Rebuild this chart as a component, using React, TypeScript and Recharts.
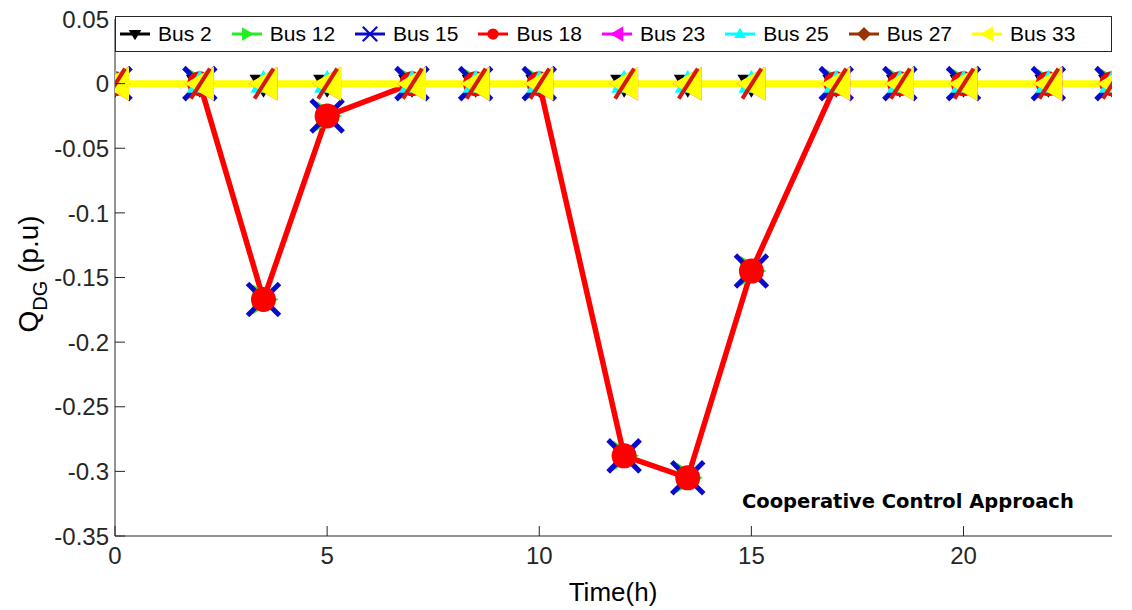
import React from 'react';
import { LineChart, Line, XAxis, YAxis, Legend, Customized } from 'recharts';

// sample times (h)
const times = [0, 2, 3.5, 5, 7, 8.5, 10, 12, 13.5, 15, 17, 18.5, 20, 22, 23.5];

// reactive power of each DG (p.u)
const bus2 = [0, 0, 0, 0, 0, 0, 0, 0, 0, 0, 0, 0, 0, 0, 0];
const bus12 = [0, 0, -0.167, -0.025, 0, 0, 0, -0.288, -0.305, -0.145, 0, 0, 0, 0, 0];
const bus15 = [0, 0, -0.167, -0.025, 0, 0, 0, -0.288, -0.305, -0.145, 0, 0, 0, 0, 0];
const bus18 = [0, 0, -0.167, -0.025, 0, 0, 0, -0.288, -0.305, -0.145, 0, 0, 0, 0, 0];
const bus23 = [0, 0, 0, 0, 0, 0, 0, 0, 0, 0, 0, 0, 0, 0, 0];
const bus25 = [0, 0, 0, 0, 0, 0, 0, 0, 0, 0, 0, 0, 0, 0, 0];
const bus27 = [0, 0, 0, 0, 0, 0, 0, 0, 0, 0, 0, 0, 0, 0, 0];
const bus33 = [0, 0, 0, 0, 0, 0, 0, 0, 0, 0, 0, 0, 0, 0, 0];

const xTicks = [0, 5, 10, 15, 20];
const yTicks = [0.05, 0, -0.05, -0.1, -0.15, -0.2, -0.25, -0.3, -0.35];

const data = times.map((t, i) => ({
  t,
  bus2: bus2[i],
  bus12: bus12[i],
  bus15: bus15[i],
  bus18: bus18[i],
  bus23: bus23[i],
  bus25: bus25[i],
  bus27: bus27[i],
  bus33: bus33[i],
}));

const W = 1132;
const H = 610;
const FONT = "'Liberation Sans', Arial, sans-serif";
const AXIS = '#262626';

type Shape = 'down' | 'right' | 'x' | 'circle' | 'left' | 'up' | 'slash' | 'diamond';

const series: { key: string; name: string; color: string; shape: Shape; width: number; legendShape?: Shape }[] = [
  { key: 'bus2', name: 'Bus 2', color: '#000000', shape: 'down', width: 2.5 },
  { key: 'bus12', name: 'Bus 12', color: '#22ee22', shape: 'right', width: 2.5 },
  { key: 'bus15', name: 'Bus 15', color: '#0a0acc', shape: 'x', width: 2.5 },
  { key: 'bus18', name: 'Bus 18', color: '#ff0000', shape: 'circle', width: 5.5 },
  { key: 'bus23', name: 'Bus 23', color: '#ff00ff', shape: 'left', width: 2.5 },
  { key: 'bus25', name: 'Bus 25', color: '#00ffff', shape: 'up', width: 2.5 },
  { key: 'bus27', name: 'Bus 27', color: '#993300', shape: 'slash', width: 2.5, legendShape: 'diamond' },
  { key: 'bus33', name: 'Bus 33', color: '#ffff00', shape: 'left', width: 7 },
];

const Marker = ({ shape, cx, cy, color, s = 1 }: { shape: Shape; cx: number; cy: number; color: string; s?: number }) => {
  switch (shape) {
    case 'down':
      return <polygon points={`${cx - 14 * s},${cy - 9 * s} ${cx + 14 * s},${cy - 9 * s} ${cx},${cy + 14 * s}`} fill={color} />;
    case 'up':
      return <polygon points={`${cx - 13 * s},${cy + 9 * s} ${cx + 13 * s},${cy + 9 * s} ${cx},${cy - 14 * s}`} fill={color} />;
    case 'right':
      return <polygon points={`${cx - 11 * s},${cy - 15 * s} ${cx - 11 * s},${cy + 15 * s} ${cx + 15 * s},${cy}`} fill={color} />;
    case 'left':
      return <polygon points={`${cx + 14 * s},${cy - 17 * s} ${cx + 14 * s},${cy + 17 * s} ${cx - 15 * s},${cy}`} fill={color} />;
    case 'x':
      return (
        <g stroke={color} strokeWidth={5 * s}>
          <line x1={cx - 16 * s} y1={cy - 16 * s} x2={cx + 16 * s} y2={cy + 16 * s} />
          <line x1={cx - 16 * s} y1={cy + 16 * s} x2={cx + 16 * s} y2={cy - 16 * s} />
        </g>
      );
    case 'circle':
      return <circle cx={cx} cy={cy} r={12.5 * s} fill={color} />;
    case 'slash':
      return <line x1={cx + 10} y1={cy - 15} x2={cx - 9} y2={cy + 15} stroke="#d41a10" strokeWidth={4} />;
    case 'diamond':
      return <polygon points={`${cx},${cy - 7} ${cx + 7},${cy} ${cx},${cy + 7} ${cx - 7},${cy}`} fill={color} />;
    default:
      return null;
  }
};

const renderDot = (shape: Shape, color: string) => (props: any) => {
  const { cx, cy, index } = props;
  if (cx == null || cy == null) return <g key={index} />;
  return (
    <g key={`${shape}-${index}`}>
      <Marker shape={shape} cx={cx} cy={cy} color={color} />
    </g>
  );
};

const LeftTick = (props: any) => {
  const { x, y, payload } = props;
  return (
    <g>
      <line x1={x} y1={y} x2={x + 10} y2={y} stroke={AXIS} />
      <text x={x - 6} y={y} dy="0.36em" textAnchor="end" fontSize={24} fontFamily={FONT} fill={AXIS}>
        {String(payload.value)}
      </text>
    </g>
  );
};

const RightTick = (props: any) => {
  const { x, y } = props;
  return <line x1={x} y1={y} x2={x - 10} y2={y} stroke={AXIS} />;
};

const BottomTick = (props: any) => {
  const { x, y, payload } = props;
  return (
    <g>
      <line x1={x} y1={y} x2={x} y2={y - 10} stroke={AXIS} />
      <text x={x} y={y + 28} textAnchor="middle" fontSize={24} fontFamily={FONT} fill={AXIS}>
        {String(payload.value)}
      </text>
    </g>
  );
};

const LegendBox = () => (
  <div
    style={{
      display: 'flex',
      alignItems: 'center',
      height: 36,
      boxSizing: 'border-box',
      border: `1px solid ${AXIS}`,
      background: '#fff',
      paddingLeft: 4,
      fontFamily: FONT,
      fontSize: 21,
      color: '#000',
    }}
  >
    {series.map((s) => (
      <div key={s.key} style={{ display: 'flex', alignItems: 'center', marginRight: 20 }}>
        <svg width={30} height={20}>
          <line x1={0} y1={10} x2={30} y2={10} stroke={s.color} strokeWidth={3} />
          <Marker shape={s.legendShape ?? s.shape} cx={15} cy={10} color={s.color} s={0.45} />
        </svg>
        <span style={{ marginLeft: 8 }}>{s.name}</span>
      </div>
    ))}
  </div>
);

const Titles = () => (
  <g fontFamily={FONT} fill="#000">
    <text x={613} y={601} textAnchor="middle" fontSize={26}>
      Time(h)
    </text>
    <text transform="translate(38,274) rotate(-90)" textAnchor="middle" fontSize={28}>
      Q<tspan dy={9} fontSize={20}>DG</tspan>
      <tspan dy={-9}> (p.u)</tspan>
    </text>
    <text x={742} y={508} fontSize={19.5} fontWeight="bold" fontFamily="'DejaVu Sans', sans-serif">
      Cooperative Control Approach
    </text>
  </g>
);

export default function App() {
  return (
    <div style={{ position: 'absolute', left: 0, top: 0, width: W, height: H, background: '#fff' }}>
      <LineChart width={W} height={H} data={data} margin={{ top: 19, right: 20, bottom: 0, left: 0 }}>
        <XAxis
          dataKey="t"
          type="number"
          domain={[0, 23.5]}
          ticks={xTicks}
          allowDataOverflow
          height={74}
          tickSize={0}
          tickMargin={0}
          tick={<BottomTick />}
          axisLine={{ stroke: AXIS }}
        />
        <YAxis
          yAxisId="left"
          type="number"
          domain={[-0.35, 0.05]}
          ticks={yTicks}
          width={115}
          tickSize={0}
          tickMargin={0}
          tick={<LeftTick />}
          axisLine={{ stroke: AXIS }}
        />
        <YAxis
          yAxisId="right"
          orientation="right"
          type="number"
          domain={[-0.35, 0.05]}
          ticks={yTicks}
          width={0}
          tickSize={0}
          tickMargin={0}
          tick={<RightTick />}
          axisLine={{ stroke: AXIS }}
        />
        {series.map((s) => (
          <Line
            key={s.key}
            yAxisId="left"
            type="linear"
            dataKey={s.key}
            name={s.name}
            stroke={s.color}
            strokeWidth={s.width}
            dot={s.shape === 'slash' ? false : renderDot(s.shape, s.color)}
            activeDot={false}
            isAnimationActive={false}
          />
        ))}
        {/* bus 27 markers are drawn over the yellow trace */}
        <Line
          yAxisId="left"
          type="linear"
          dataKey="bus27"
          stroke="none"
          legendType="none"
          dot={renderDot('slash', '#993300')}
          activeDot={false}
          isAnimationActive={false}
        />
        <Customized component={Titles} />
        <Legend
          layout="horizontal"
          verticalAlign="middle"
          align="center"
          content={<LegendBox />}
          wrapperStyle={{ top: 16, left: 115, width: 997, height: 36 }}
        />
      </LineChart>
    </div>
  );
}
